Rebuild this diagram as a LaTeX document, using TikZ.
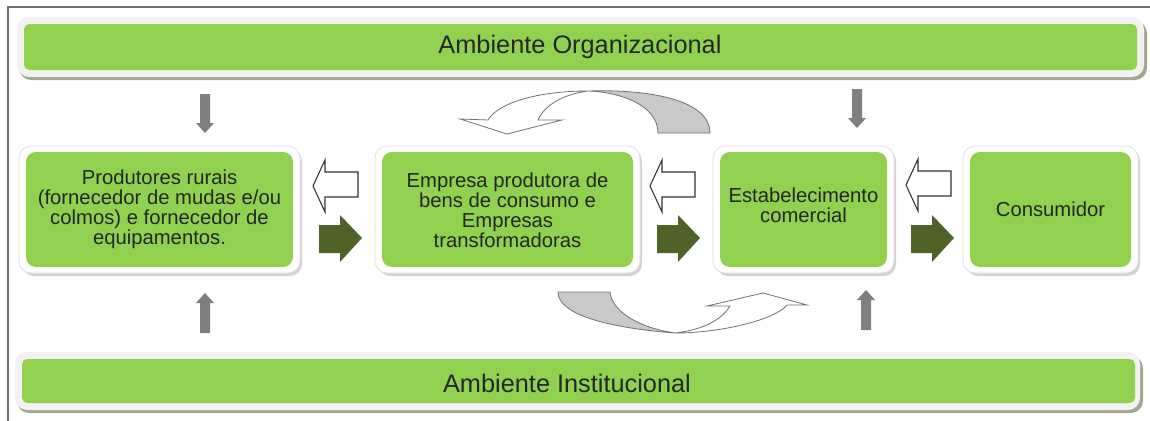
\documentclass[tikz,border=0pt]{standalone}
\usepackage{fontspec}
\setmainfont{Liberation Sans}
\definecolor{lgreen}{HTML}{92D050}
\definecolor{dgreen}{HTML}{4F6228}
\definecolor{arrgray}{HTML}{7F7F7F}
\definecolor{rimgray}{HTML}{F2F2F2}
\definecolor{barshadow}{HTML}{A3A893}
\definecolor{boxshadow}{HTML}{D4D4D4}
\definecolor{curvegray}{HTML}{C9C9C9}
\begin{document}
\begin{tikzpicture}[x=0.75pt,y=-0.75pt,
  bartext/.style={font=\fontsize{19pt}{22pt}\selectfont, text=black!85},
  boxtext/.style={font=\fontsize{15.2pt}{15pt}\selectfont, text=black!85, align=center},
  greenbox/.style={fill=lgreen, rounded corners=7.5pt, draw=none, inner sep=0pt},
  rim/.style={fill=white, draw=black!12, line width=0.6pt, rounded corners=9pt},
  bshadow/.style={fill=boxshadow, rounded corners=9pt},
  hollowL/.pic={\draw[fill=white, draw=black!80, line width=0.8pt, line join=miter]
      (0,0) -- (12,-26) -- (12,-14) -- (45,-14) -- (45,11) -- (12,11) -- (12,26) -- cycle;},
  darkR/.pic={\fill[dgreen] (0,0) -- (-22,-23) -- (-22,-13) -- (-43,-13) -- (-43,15) -- (-22,15) -- (-22,24) -- cycle;},
  grayDown/.pic={\fill[arrgray] (0,0) -- (-9,-10) -- (-5,-10) -- (-5,-39) -- (5,-39) -- (5,-10) -- (9,-10) -- cycle;},
  grayUp/.pic={\fill[arrgray] (0,0) -- (-9,10) -- (-5,10) -- (-5,40) -- (5,40) -- (5,10) -- (9,10) -- cycle;}
]
\useasboundingbox (0,0) rectangle (1150,421);
% frame
\draw[black!55, line width=0.9pt] (8,421) -- (8,7) -- (1150,7);

% top bar
\fill[barshadow, rounded corners=9pt] (19,21) rectangle (1147,80);
\fill[rimgray, rounded corners=9pt] (17,17) rectangle (1144,77);
\node[greenbox, rounded corners=4pt, minimum width={1113*0.75pt}, minimum height={46*0.75pt}] (org) at (580.5,47) {};
\node[bartext] (orgt) at (580,47) {Ambiente Organizacional};

% bottom bar
\fill[barshadow, rounded corners=9pt] (17,356) rectangle (1143,413);
\fill[rimgray, rounded corners=9pt] (15,352) rectangle (1140,410);
\node[greenbox, rounded corners=4pt, minimum width={1113*0.75pt}, minimum height={44*0.75pt}] (inst) at (578.5,381) {};
\node[bartext] (instt) at (567,383) {Ambiente Institucional};

% boxes
\foreach \xa/\xb in {26/293, 382/633, 720/887, 970/1131}{
  \fill[bshadow] (\xa-4,149) rectangle (\xb+9,276);
  \filldraw[rim] (\xa-7,146) rectangle (\xb+7,273);
}
\node[greenbox, minimum width={267*0.75pt}, minimum height={115*0.75pt}] (b1) at (159.5,209.5) {};
\node[boxtext] at (b1) {Produtores rurais\\(fornecedor de mudas e/ou\\colmos) e fornecedor de\\equipamentos.};
\node[greenbox, minimum width={251*0.75pt}, minimum height={115*0.75pt}] (b2) at (507.5,209.5) {};
\node[boxtext] at ([yshift=-0.75pt]b2) {Empresa produtora de\\bens de consumo e\\Empresas\\transformadoras};
\node[greenbox, minimum width={167*0.75pt}, minimum height={115*0.75pt}] (b3) at (803.5,209.5) {};
\node[boxtext] at ([yshift=3pt]b3) {Estabelecimento\\comercial};
\node[greenbox, minimum width={161*0.75pt}, minimum height={115*0.75pt}] (b4) at (1050.5,209.5) {};
\node[boxtext] at (b4) {Consumidor};

% horizontal block arrows
\pic at (313,186) {hollowL};
\pic at (650,186) {hollowL};
\pic at (906,185) {hollowL};
\pic at (362,238) {darkR};
\pic at (700,238) {darkR};
\pic at (954,238) {darkR};

% vertical gray arrows
\pic at (205,133) {grayDown};
\pic at (857,128) {grayDown};
\pic at (205,293) {grayUp};
\pic at (866,290) {grayUp};

% top curved arrow
\filldraw[fill=curvegray, draw=black!55, line width=0.6pt]
  (658,133) -- (710,133) .. controls (710,100) and (650,89) .. (588,91)
  .. controls (620,92) and (658,105) .. cycle;
\filldraw[fill=white, draw=black!55, line width=0.6pt]
  (588,91) .. controls (535,91) and (497,104) .. (488,120)
  -- (460,119) -- (507,134) -- (562,120) -- (538,120)
  .. controls (545,104) and (565,94) .. (588,91) -- cycle;

% bottom curved arrow
\filldraw[fill=curvegray, draw=black!55, line width=0.6pt]
  (558,292) -- (610,292) .. controls (612,312) and (640,328) .. (675,333)
  .. controls (610,328) and (558,315) .. cycle;
\filldraw[fill=white, draw=black!55, line width=0.6pt]
  (675,333) .. controls (720,333) and (775,320) .. (787,305)
  -- (807,305) -- (763,293) -- (707,306) -- (730,306)
  .. controls (720,322) and (700,330) .. (675,333) -- cycle;
\end{tikzpicture}
\end{document}
